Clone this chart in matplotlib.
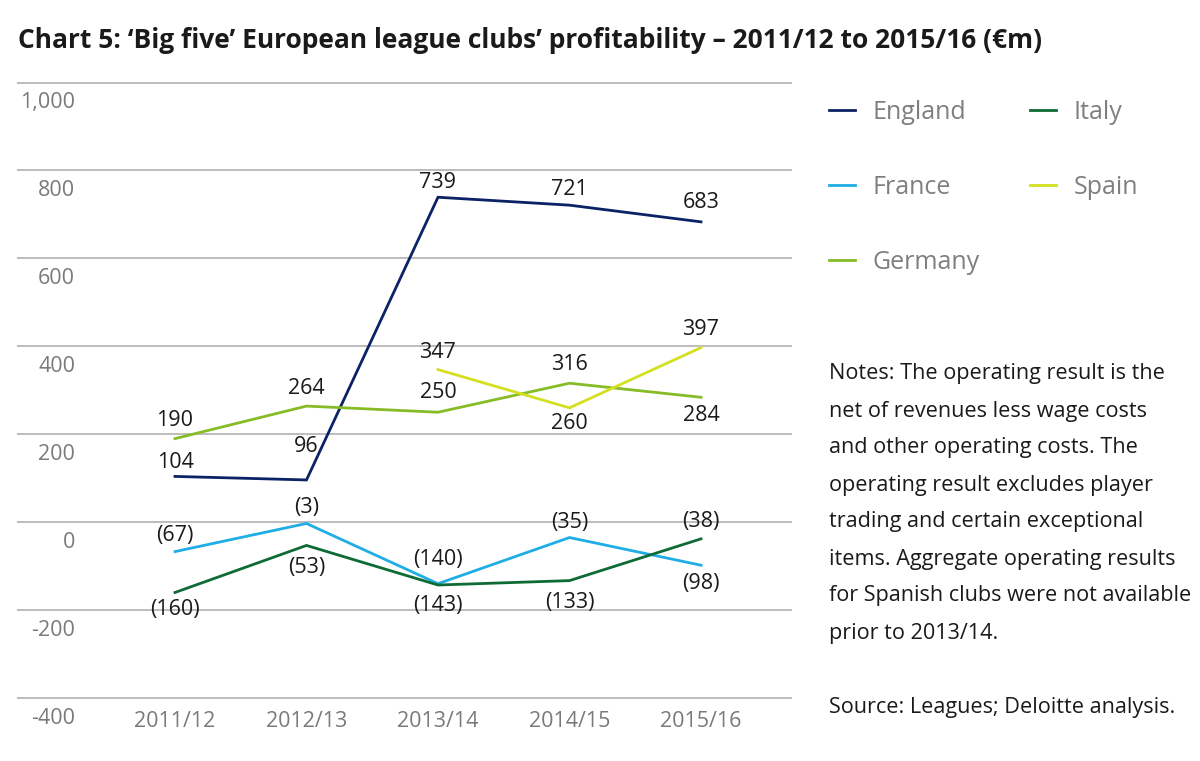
import numpy as np
import matplotlib.pyplot as plt

# Chart 5: operating results of the 'big five' league clubs (EUR m)
seasons = ["2011/12", "2012/13", "2013/14", "2014/15", "2015/16"]
england = [104, 96, 739, 721, 683]
france = [-67, -3, -140, -35, -98]
germany = [190, 264, 250, 316, 284]
italy = [-160, -53, -143, -133, -38]
spain = [np.nan, np.nan, 347, 260, 397]
y_ticks = [-400, -200, 0, 200, 400, 600, 800, 1000]

# label offsets in pixels (+ = above the point)
off_england = [14, 33, 15, 16, 19]
off_france = [16, 16, 24, 15, -18]
off_germany = [18, 18, 20, 19, -18]
off_italy = [-17, -22, -20, -22, 17]
off_spain = [0, 0, 17, -16, 18]

series = [
    ("England", england, "#0b2265", off_england),
    ("France", france, "#1eaee5", off_france),
    ("Germany", germany, "#86bc25", off_germany),
    ("Italy", italy, "#0f6b35", off_italy),
    ("Spain", spain, "#d4e01e", off_spain),
]

plt.rcParams['font.family'] = ['Open Sans', 'DejaVu Sans']

W, H = 1200, 761
fig = plt.figure(figsize=(W / 100, H / 100), dpi=100)

# pixel geometry of the plot area
x_left, x_right = 17, 792
y_top_val, y_bot_val = 82.5, 698          # pixel rows of 1000 and -400
scale = (y_bot_val - y_top_val) / 1400.0
pad = 20
ax_top = y_top_val - pad * scale
ax_bot = y_bot_val + pad * scale
ax = fig.add_axes([x_left / W, 1 - ax_bot / H, (x_right - x_left) / W, (ax_bot - ax_top) / H])

x = np.arange(len(seasons))
step = 131.5
ax.set_xlim(-(175 - x_left) / step, (x_right - 175) / step)
ax.set_ylim(-400 - pad, 1000 + pad)

for name, vals, col, offs in series:
    ax.plot(x, vals, color=col, lw=2.0, label=name, solid_joinstyle='miter')
    for i, v in enumerate(vals):
        if np.isnan(v):
            continue
        txt = str(v) if v >= 0 else "(%d)" % abs(v)
        ax.annotate(txt, xy=(x[i], v), xytext=(0, offs[i]), textcoords='offset pixels',
                    ha='center', va='center', fontsize=15.5, color='#1a1a1a')

ax.set_yticks(y_ticks)
ax.set_yticklabels([])
ax.yaxis.grid(True, color='#aaaaaa', lw=1.1)
ax.tick_params(axis='y', length=0)
for t in y_ticks:
    ax.annotate("{:,}".format(t), xy=(0.075, t), xycoords=ax.get_yaxis_transform(),
                xytext=(0, -20), textcoords='offset pixels', ha='right', va='center',
                fontsize=15.5, color='#7a7a7a')

ax.set_xticks(x)
ax.set_xticklabels(seasons, fontsize=15.5, color='#7a7a7a')
ax.tick_params(axis='x', length=0, pad=3)
for s in ax.spines.values():
    s.set_visible(False)
ax.set_axisbelow(True)

leg = ax.legend(loc='upper left', bbox_to_anchor=(829 / W, 1 - 100 / H),
                bbox_transform=fig.transFigure, ncol=2, frameon=False,
                fontsize=18, labelcolor='#7f7f7f', handlelength=1.05,
                handletextpad=0.7, labelspacing=2.0, columnspacing=2.0,
                borderpad=0, borderaxespad=0)

fig.text(18 / W, 1 - 40 / H,
         "Chart 5: \u2018Big five\u2019 European league clubs\u2019 profitability \u2013 2011/12 to 2015/16 (\u20acm)",
         fontsize=19, fontweight='bold', color='#1a1a1a', va='center', ha='left')

notes = [
    "Notes: The operating result is the",
    "net of revenues less wage costs",
    "and other operating costs. The",
    "operating result excludes player",
    "trading and certain exceptional",
    "items. Aggregate operating results",
    "for Spanish clubs were not available",
    "prior to 2013/14.",
    "",
    "Source: Leagues; Deloitte analysis.",
]
for k, line in enumerate(notes):
    fig.text(829 / W, 1 - (374 + 37 * k) / H, line, fontsize=15.6, color='#1a1a1a',
             va='center', ha='left')

fig.savefig("out.png", dpi=100)
